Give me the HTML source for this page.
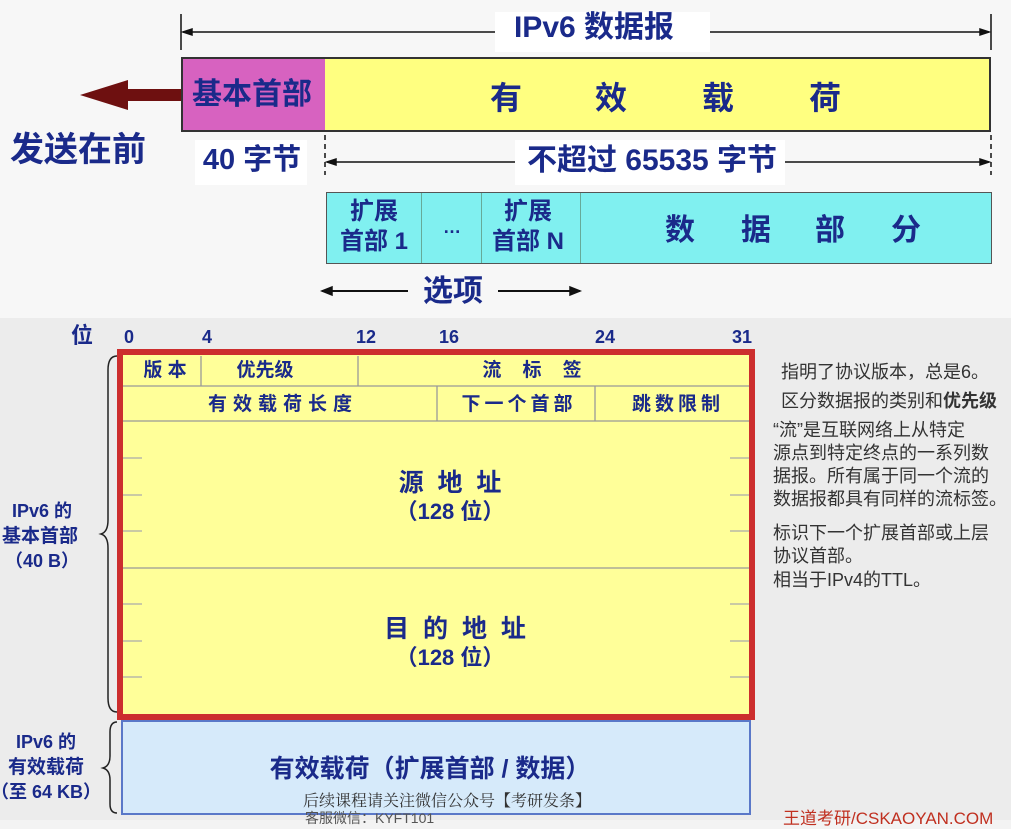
<!DOCTYPE html>
<html><head><meta charset="utf-8"><style>
*{margin:0;padding:0;box-sizing:border-box}
body{width:1011px;height:820px;overflow:hidden;position:relative;background:#f3f3f3;font-family:"Liberation Sans","Noto Sans CJK SC",sans-serif;}
.a{position:absolute}
.t{position:absolute;white-space:nowrap;font-weight:bold;color:#1a2a8a;line-height:1}
.c{transform:translateX(-50%)}
.g{position:absolute;white-space:nowrap;color:#333;font-size:18px;line-height:1;font-family:"Liberation Sans","Noto Sans CJK SC",sans-serif}
</style></head><body>
<div class="a" style="left:0;top:0;width:1011px;height:318px;background:#f7f7f7"></div>
<div class="a" style="left:0;top:318px;width:1011px;height:502px;background:#ececec"></div>

<svg class="a" style="left:0;top:0" width="1011" height="320">
<g stroke="#111" stroke-width="1.5" fill="#111">
<line x1="181" y1="14" x2="181" y2="50"/><line x1="991" y1="14" x2="991" y2="50"/>
<line x1="183" y1="32" x2="989" y2="32"/>
<polygon points="183,32 192,29 192,35"/><polygon points="989,32 980,29 980,35"/>
<line x1="325" y1="135" x2="325" y2="175" stroke-dasharray="5,4"/>
<line x1="991" y1="135" x2="991" y2="175" stroke-dasharray="5,4"/>
<line x1="327" y1="162" x2="989" y2="162"/>
<polygon points="327,162 336,159 336,165"/><polygon points="989,162 980,159 980,165"/>
<line x1="322" y1="291" x2="580" y2="291" stroke-width="2"/>
<polygon points="322,291 332,287 332,295"/><polygon points="580,291 570,287 570,295"/>
</g>
<polygon points="80,95 128,80 128,89 181,89 181,101 128,101 128,110" fill="#6e1010"/>
</svg>
<div class="a" style="left:495px;top:12px;width:215px;height:40px;background:#fff"></div>
<div class="t c" style="left:594px;top:13px;font-size:30px">IPv6 数据报</div>

<div class="a" style="left:181px;top:57px;width:810px;height:75px;border:2px solid #333;background:#ffff80"></div>
<div class="a" style="left:183px;top:59px;width:142px;height:71px;background:#d762c0"></div>
<div class="t c" style="left:252px;top:80px;font-size:30px">基本首部</div>
<div class="t c" style="left:506px;top:82px;font-size:32px">有</div>
<div class="t c" style="left:611px;top:82px;font-size:32px">效</div>
<div class="t c" style="left:718px;top:82px;font-size:32px">载</div>
<div class="t c" style="left:825px;top:82px;font-size:32px">荷</div>

<div class="t" style="left:10px;top:133px;font-size:34px">发送在前</div>
<div class="a" style="left:195px;top:140px;width:112px;height:45px;background:#fff"></div>
<div class="t c" style="left:252px;top:146px;font-size:29px">40 字节</div>
<div class="a" style="left:515px;top:140px;width:270px;height:45px;background:#fff"></div>
<div class="t c" style="left:652px;top:146px;font-size:30px">不超过 65535 字节</div>

<div class="a" style="left:326px;top:192px;width:666px;height:72px;border:1.5px solid #555;background:#80f0f0"></div>
<div class="a" style="left:421px;top:193px;width:1px;height:70px;background:#6a9"></div>
<div class="a" style="left:481px;top:193px;width:1px;height:70px;background:#6a9"></div>
<div class="a" style="left:580px;top:193px;width:1px;height:70px;background:#6a9"></div>
<div class="t c" style="left:374px;top:200px;font-size:24px">扩展</div>
<div class="t c" style="left:374px;top:230px;font-size:24px">首部 1</div>
<div class="t c" style="left:452px;top:218px;font-size:18px">…</div>
<div class="t c" style="left:528px;top:200px;font-size:24px">扩展</div>
<div class="t c" style="left:528px;top:230px;font-size:24px">首部 N</div>
<div class="t c" style="left:680px;top:216px;font-size:30px">数</div>
<div class="t c" style="left:756px;top:216px;font-size:30px">据</div>
<div class="t c" style="left:830px;top:216px;font-size:30px">部</div>
<div class="t c" style="left:906px;top:216px;font-size:30px">分</div>
<div class="a" style="left:408px;top:274px;width:90px;height:36px;background:#f7f7f7"></div>
<div class="t c" style="left:453px;top:277px;font-size:30px">选项</div>

<div class="t" style="left:71px;top:325px;font-size:22px">位</div>
<div class="t c" style="left:129px;top:328px;font-size:18px">0</div>
<div class="t c" style="left:207px;top:328px;font-size:18px">4</div>
<div class="t c" style="left:366px;top:328px;font-size:18px">12</div>
<div class="t c" style="left:449px;top:328px;font-size:18px">16</div>
<div class="t c" style="left:605px;top:328px;font-size:18px">24</div>
<div class="t c" style="left:742px;top:328px;font-size:18px">31</div>

<div class="a" style="left:117px;top:349px;width:638px;height:371px;border:6px solid #cc2e2e;background:#ffff99"></div>
<svg class="a" style="left:0;top:320px" width="1011" height="500">
<g stroke="#999" stroke-width="1.3">
<line x1="123" y1="66" x2="749" y2="66"/>
<line x1="123" y1="101" x2="749" y2="101"/>
<line x1="123" y1="248" x2="749" y2="248"/>
<line x1="201" y1="36" x2="201" y2="66"/>
<line x1="358" y1="36" x2="358" y2="66"/>
<line x1="437" y1="66" x2="437" y2="101"/>
<line x1="595" y1="66" x2="595" y2="101"/>
<g stroke="#aaa">
<line x1="123" y1="138" x2="142" y2="138"/><line x1="730" y1="138" x2="749" y2="138"/>
<line x1="123" y1="175" x2="142" y2="175"/><line x1="730" y1="175" x2="749" y2="175"/>
<line x1="123" y1="211" x2="142" y2="211"/><line x1="730" y1="211" x2="749" y2="211"/>
<line x1="123" y1="284" x2="142" y2="284"/><line x1="730" y1="284" x2="749" y2="284"/>
<line x1="123" y1="321" x2="142" y2="321"/><line x1="730" y1="321" x2="749" y2="321"/>
<line x1="123" y1="357" x2="142" y2="357"/><line x1="730" y1="357" x2="749" y2="357"/>
</g></g>
<g fill="none" stroke="#222" stroke-width="1.5">
<path d="M117,36 Q108,36 108,50 L108,200 Q108,212 101,214 Q108,216 108,228 L108,378 Q108,392 117,392"/>
<path d="M117,402 Q110,402 110,412 L110,436 Q110,446 103,448 Q110,450 110,460 L110,484 Q110,493 117,493"/>
</g>
</svg>
<div class="t c" style="left:165px;top:361px;font-size:19px">版 本</div>
<div class="t c" style="left:265px;top:361px;font-size:19px">优先级</div>
<div class="t c" style="left:532px;top:361px;font-size:19px">流&nbsp;&nbsp;&nbsp;&nbsp;标&nbsp;&nbsp;&nbsp;&nbsp;签</div>
<div class="t c" style="left:283px;top:395px;font-size:19px;letter-spacing:6px">有效载荷长度</div>
<div class="t c" style="left:519px;top:395px;font-size:19px;letter-spacing:4px">下一个首部</div>
<div class="t c" style="left:678px;top:395px;font-size:19px;letter-spacing:4px">跳数限制</div>
<div class="t c" style="left:450px;top:471px;font-size:25px">源&nbsp;&nbsp;地&nbsp;&nbsp;址</div>
<div class="t c" style="left:450px;top:501px;font-size:22px">（128 位）</div>
<div class="t c" style="left:455px;top:617px;font-size:25px">目&nbsp;&nbsp;的&nbsp;&nbsp;地&nbsp;&nbsp;址</div>
<div class="t c" style="left:450px;top:647px;font-size:22px">（128 位）</div>

<div class="a" style="left:121px;top:720px;width:630px;height:95px;border:2px solid #5a78c8;background:#d6eafa"></div>
<div class="t c" style="left:430px;top:757px;font-size:25px">有效载荷（扩展首部 / 数据）</div>
<div class="a" style="left:303px;top:788px;font-size:16px;color:#333;white-space:nowrap;font-family:'Liberation Serif','Noto Serif CJK SC',serif">后续课程请关注微信公众号【考研发条】</div>
<div class="a" style="left:305px;top:808px;font-size:14px;color:#555;white-space:nowrap">客服微信：KYFT101</div>

<div class="t c" style="left:42px;top:502px;font-size:18px">IPv6 的</div>
<div class="t c" style="left:40px;top:527px;font-size:19px">基本首部</div>
<div class="t c" style="left:42px;top:552px;font-size:18px">（40 B）</div>
<div class="t c" style="left:46px;top:733px;font-size:18px">IPv6 的</div>
<div class="t c" style="left:46px;top:758px;font-size:19px">有效载荷</div>
<div class="t c" style="left:46px;top:783px;font-size:18px">（至 64 KB）</div>

<div class="g" style="left:781px;top:363px">指明了协议版本，总是6。</div>
<div class="g" style="left:781px;top:392px">区分数据报的类别和<b>优先级</b></div>
<div class="g" style="left:773px;top:421px">“流”是互联网络上从特定</div>
<div class="g" style="left:773px;top:444px">源点到特定终点的一系列数</div>
<div class="g" style="left:773px;top:467px">据报。所有属于同一个流的</div>
<div class="g" style="left:773px;top:490px">数据报都具有同样的流标签。</div>
<div class="g" style="left:773px;top:524px">标识下一个扩展首部或上层</div>
<div class="g" style="left:773px;top:547px">协议首部。</div>
<div class="g" style="left:773px;top:571px">相当于IPv4的TTL。</div>
<div class="a" style="left:783px;top:804px;font-size:17px;color:#c03020;white-space:nowrap">王道考研/CSKAOYAN.COM</div>
</body></html>
